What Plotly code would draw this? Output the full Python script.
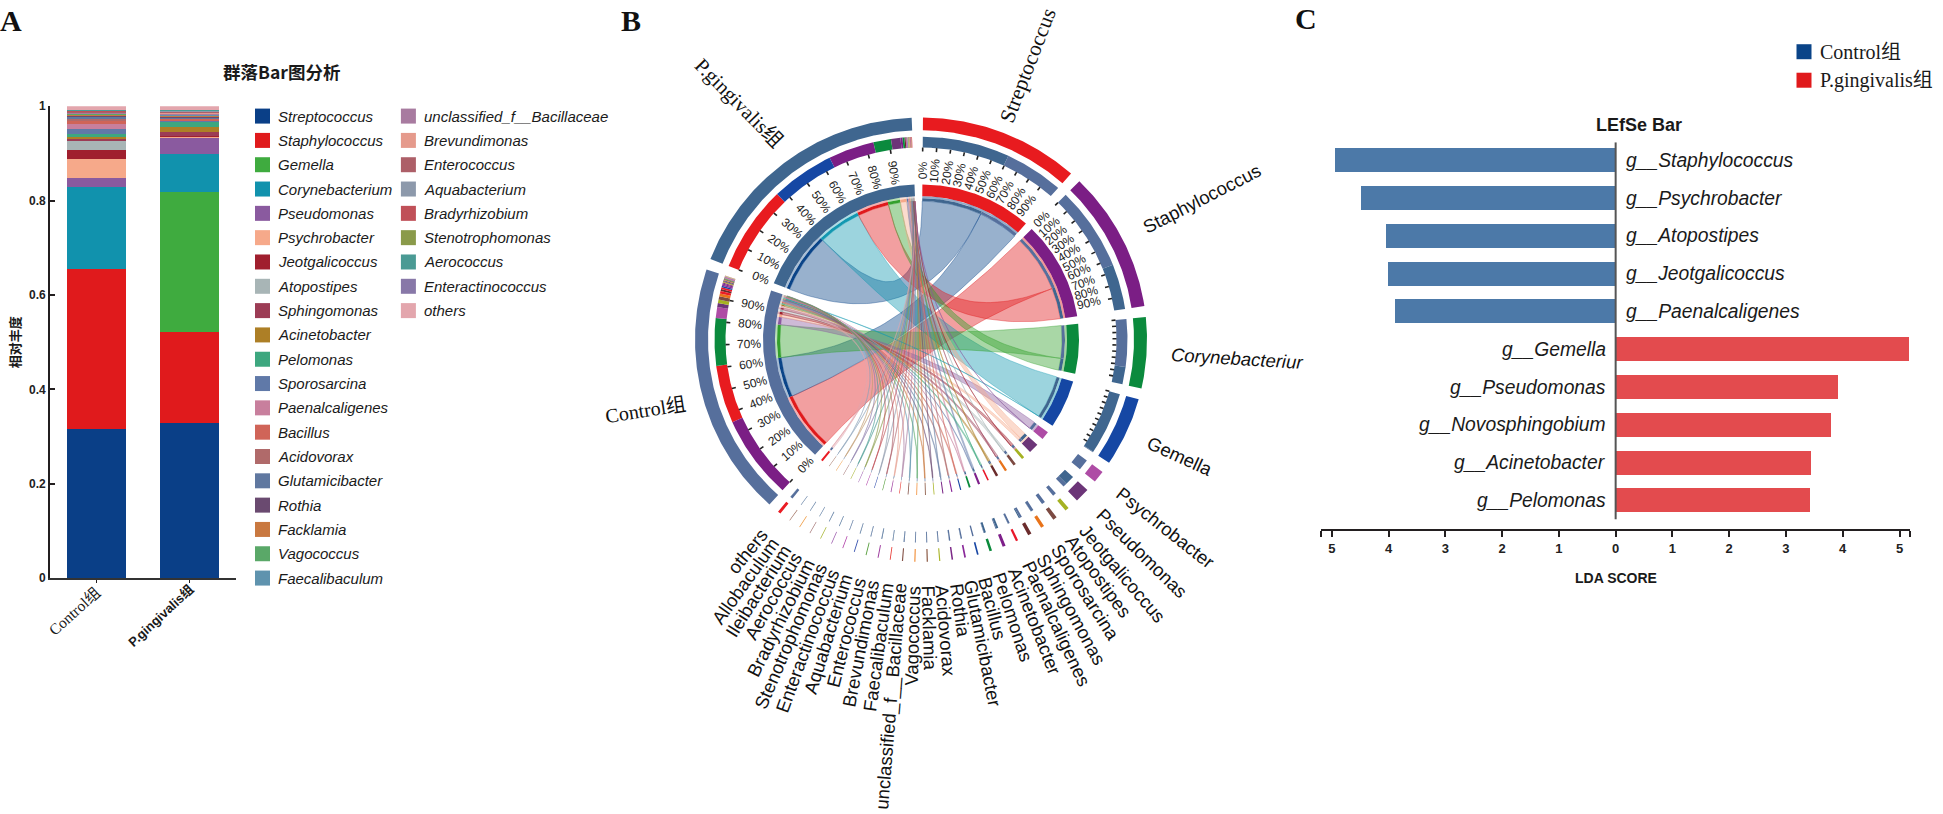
import math
import plotly.graph_objects as go

W, H = 1943, 814

# ---------- Panel A data ----------
groups_a = ["Control组", "P.gingivalis组"]
taxa_a = ["Streptococcus", "Staphylococcus", "Gemella", "Corynebacterium", "Pseudomonas", "Psychrobacter",
          "Jeotgalicoccus", "Atopostipes", "Sphingomonas", "Acinetobacter", "Pelomonas", "Sporosarcina",
          "Paenalcaligenes", "Bacillus", "Acidovorax", "Glutamicibacter", "Rothia", "Facklamia", "Vagococcus",
          "Faecalibaculum", "unclassified_f__Bacillaceae", "Brevundimonas", "Enterococcus", "Aquabacterium",
          "Bradyrhizobium", "Stenotrophomonas", "Aerococcus", "Enteractinococcus", "others"]
control_a = [.316, .339, .0005, .174, .019, .039, .019, .02, .005, .004, .005, .011, .011, .007, .004, .004, .002,
             .002, .002, .001, .001, .001, .001, .001, .001, .0005, .002, .0005, .0075]
pg_a = [.3285, .193, .2965, .081, .035, .002, .0005, .0005, .0095, .0105, .0095, .002, .001, .003, .001, .002, .003,
        .001, .001, .002, .002, .002, .001, .002, .001, .001, .0005, .0005, .0075]
colors_a = ["#0a3f87", "#e01a1c", "#3fab3f", "#1192ad", "#8a5a9f", "#f6a98a", "#a01f2e", "#a8b5b6", "#9c3c55",
            "#ad7f26", "#3da77f", "#6079a8", "#c87f9d", "#d06458", "#b06a6a", "#6078a0", "#6a4a70", "#c97840",
            "#5aa868", "#5f93ae", "#a87ba0", "#e59a8c", "#ad5f68", "#8d99ab", "#c05058", "#8a9a4a", "#4a9a94",
            "#8878a8", "#e3a6ad"]
ticks_a = [0, .2, .4, .6, .8, 1]
ticktext_a = ["<b>0</b>", "<b>0.2</b>", "<b>0.4</b>", "<b>0.6</b>", "<b>0.8</b>", "<b>1</b>"]

# ---------- Panel B data ----------
chord_species = ["Streptococcus", "Staphylococcus", "Corynebacteriur", "Gemella", "Psychrobacter", "Pseudomonas",
                 "Jeotgalicoccus", "Atopostipes", "Sporosarcina", "Sphingomonas", "Paenalcaligenes", "Acinetobacter",
                 "Pelomonas", "Bacillus", "Glutamicibacter", "Rothia", "Acidovorax", "Facklamia", "Vagococcus",
                 "unclassified_f__Bacillaceae", "Faecalibaculum", "Brevundimonas", "Enterococcus", "Aquabacterium",
                 "Enteractinococcus", "Stenotrophomonas", "Bradyrhizobium", "Aerococcus", "Ileibacterium",
                 "Allobaculum", "others"]
chord_control = [25, 36, 20.5, .3, 4.7, 1.7, 1.5, 1.5, 1.2, .9, .8, .35, .2, .6, .55, .5, .35, .35, .3, .3, .15, .15,
                 .2, .15, .2, .1, .1, .1, .1, .1, 1.05]
chord_pg = [37, 19.5, 7.5, 27, .05, 4, .05, .05, .1, .5, .1, .85, .8, .05, .1, .1, .1, .1, .1, .15, .2, .25, .15, .2,
            .1, .2, .2, .15, .15, .15, .1]
sector_colors = ["#e81b1f", "#7b1e85", "#0b8a3d", "#1547a4", "#ae4ca5", "#6c3578", "#a5b222", "#7c4a42", "#e8731a",
                 "#6b2c2c", "#e9182a", "#7e1f8a", "#0a8a3b", "#1947a4", "#8a2a9a", "#7d2a88", "#aab52a", "#85503a",
                 "#ef8020", "#86554a", "#e9403a", "#a040a0", "#5aa040", "#3a55b0", "#b040a8", "#a060b0", "#aab83a",
                 "#a07070", "#ef9a40", "#a07060", "#ea1c24"]
link_colors = ["#0a4488", "#e01a1c", "#33a02c", "#1398b1", "#8a5a9f", "#f6a98a", "#a01f2e", "#a8b5b6", "#9c3c55",
               "#ad7f26", "#3da77f", "#6079a8", "#c87f9d", "#d06458", "#b06a6a", "#6078a0", "#6a4a70", "#c97840",
               "#5aa868", "#5f93ae", "#a87ba0", "#e59a8c", "#ad5f68", "#8d99ab", "#c05058", "#8a9a4a", "#4a9a94",
               "#8878a8", "#c09a70", "#8aa0b8", "#e3a6ad"]
group_names = ["Control", "P.gingivalis"]
group_colors = {"Control": "#566f9c", "P.gingivalis": "#3f668f"}

# ---------- Panel C data ----------
lda_control_names = ["g__Staphylococcus", "g__Psychrobacter", "g__Atopostipes", "g__Jeotgalicoccus", "g__Paenalcaligenes"]
lda_control = [4.94, 4.486, 4.05, 4.01, 3.89]
lda_pg_names = ["g__Gemella", "g__Pseudomonas", "g__Novosphingobium", "g__Acinetobacter", "g__Pelomonas"]
lda_pg = [5.16, 3.92, 3.79, 3.44, 3.42]
lda_ticks = [-5, -4, -3, -2, -1, 0, 1, 2, 3, 4, 5]
lda_ticktext = ["<b>5</b>", "<b>4</b>", "<b>3</b>", "<b>2</b>", "<b>1</b>", "<b>0</b>", "<b>1</b>", "<b>2</b>",
                "<b>3</b>", "<b>4</b>", "<b>5</b>"]

SANS = "Liberation Sans, Noto Sans CJK SC"
SERIF = "Liberation Serif, Noto Sans CJK SC"
CJK = "Noto Sans CJK SC"
INK = "#231f20"

fig = go.Figure()
ann = []


def text(x, y, s, size, family=SANS, rot=0, xa="center", ya="middle", color="#1a1a1a"):
    ann.append(dict(x=x, y=y, xref="x3", yref="y3", text=s, showarrow=False, textangle=rot, xanchor=xa, yanchor=ya,
                    font=dict(size=size, family=family, color=color)))


# ---------- Panel A ----------
for name, cc, pp, col in zip(taxa_a, control_a, pg_a, colors_a):
    fig.add_trace(go.Bar(x=[0, 1], y=[cc, pp], marker=dict(color=col, line=dict(width=0)), name=name,
                         xaxis="x", yaxis="y", showlegend=False, hoverinfo="skip"))

lx = [262.5, 408.4]
row0, rowstep = 111, 24.74
for i, (name, col) in enumerate(zip(taxa_a, colors_a)):
    c = 0 if i < 20 else 1
    r = i if i < 20 else i - 20
    ypos = row0 + r * rowstep
    fig.add_trace(go.Scatter(x=[lx[c]], y=[ypos], mode="markers", xaxis="x3", yaxis="y3", showlegend=False,
                             hoverinfo="skip", marker=dict(symbol="square", size=15, color=col, line=dict(width=0))))
    text(lx[c] + 13.5, ypos, f"<i>{name}</i>", 15, xa="left")

text(281.6, 66, "<b>群落Bar图分析</b>", 17.5, family=CJK)
text(14, 341, "<b>相对丰度</b>", 13, family=CJK, rot=-90)
text(74, 615, groups_a[0], 15.5, family=SERIF, rot=-42)
text(161, 619, f"<b>{groups_a[1]}</b>", 13, rot=-43)

# ---------- Panel B geometry ----------
CX, CY = 921, 338.5
GAP = 2.87
START = 0.5
R_LINK, R_STRIP, R_TINT, R_BAND = 141, 144, 146, 158
R_TICK0, R_TICK1 = 191.5, 195.5
R_R2, R_R2O = 195.5, 206.5
R_O0, R_O1 = 213, 226


def pt(theta, r):
    t = math.radians(theta)
    return CX + r * math.sin(t), CY - r * math.cos(t)


def arc(a0, a1, r):
    n = max(2, int(abs(a1 - a0) / 0.5) + 2)
    return [pt(a0 + (a1 - a0) * i / (n - 1), r) for i in range(n)]


def ring(a0, a1, r0, r1):
    return arc(a0, a1, r1) + arc(a1, a0, r0)


def bez(p0, p2, n=50):
    out = []
    for i in range(1, n):
        t = i / n
        out.append(((1 - t) ** 2 * p0[0] + t * t * p2[0] + 2 * t * (1 - t) * CX,
                    (1 - t) ** 2 * p0[1] + t * t * p2[1] + 2 * t * (1 - t) * CY))
    return out


def rgba(hexcol, a):
    return f"rgba({int(hexcol[1:3], 16)},{int(hexcol[3:5], 16)},{int(hexcol[5:7], 16)},{a})"


buckets = {}


def add_poly(color, pts):
    b = buckets.setdefault(color, ([], []))
    b[0].extend([p[0] for p in pts] + [pts[0][0], None])
    b[1].extend([p[1] for p in pts] + [pts[0][1], None])


HELV = dict(zip("abcdefghijklmnopqrstuvwxyz", [.556, .556, .5, .556, .556, .278, .556, .556, .222, .222, .5, .222, .833,
                                               .556, .556, .556, .556, .333, .5, .278, .556, .5, .722, .5, .5, .5]))
HELV.update({"A": .667, "B": .667, "C": .722, "E": .667, "F": .611, "G": .778, "I": .278, "J": .5, "P": .667, "R": .722,
             "S": .667, "V": .667, "_": .556, "%": .889})


def width(s, size, k=1.0):
    return sum(HELV.get(ch, .556) for ch in s) * size * k


# sector layout: every value is drawn twice, once on its species and once on its group
total = sum(chord_control) + sum(chord_pg)
scale = (360 - GAP * (len(chord_species) + 2)) / (2 * total)
species_span = {}
pos = START
for i, sp in enumerate(chord_species):
    wdeg = (chord_control[i] + chord_pg[i]) * scale
    species_span[i] = (pos, pos + wdeg)
    pos += wdeg + GAP
group_span = {}
gvals = {"Control": chord_control, "P.gingivalis": chord_pg}
for g in group_names:
    wdeg = sum(gvals[g]) * scale
    group_span[g] = (pos, pos + wdeg)
    pos += wdeg + GAP

# where each link ends on the species sector (largest first)
sp_slot = {}
for i in range(len(chord_species)):
    a = species_span[i][0]
    order = sorted(group_names, key=lambda g: -gvals[g][i])
    for g in order:
        d = gvals[g][i] * scale
        sp_slot[(i, g)] = (a, a + d)
        a += d

# where each link ends on the group sector (largest first)
gr_slot = {}
for g in group_names:
    a = group_span[g][0]
    for i in sorted(range(len(chord_species)), key=lambda k: -gvals[g][k]):
        d = gvals[g][i] * scale
        gr_slot[(i, g)] = (a, a + d)
        a += d

# ribbons
link_order = sorted(((g, i) for g in group_names for i in range(len(chord_species))), key=lambda t: gvals[t[0]][t[1]])
for g, i in reversed(link_order):
    a0, a1 = gr_slot[(i, g)]
    b0, b1 = sp_slot[(i, g)]
    A = arc(a0, a1, R_LINK)
    B = arc(b0, b1, R_LINK)
    poly = A + bez(A[-1], B[0]) + B + bez(B[-1], A[0])
    poly.append(poly[0])
    fig.add_trace(go.Scatter(x=[p[0] for p in poly], y=[p[1] for p in poly], mode="lines", fill="toself",
                             fillcolor=rgba(link_colors[i], .42), line=dict(color=rgba(link_colors[i], .55), width=.7),
                             xaxis="x3", yaxis="y3", showlegend=False, hoverinfo="skip"))

# rings
for i in range(len(chord_species)):
    a0, a1 = species_span[i]
    add_poly(sector_colors[i], ring(a0, a1, R_O0, R_O1))
    add_poly(sector_colors[i], ring(a0, a1, R_TINT, R_BAND))
    for g in group_names:
        s0, s1 = sp_slot[(i, g)]
        if s1 - s0 > 0:
            add_poly(group_colors[g], ring(s0, s1, R_R2, R_R2O))
            add_poly(group_colors[g], ring(s0, s1, R_LINK, R_STRIP))
            add_poly(rgba(link_colors[i], .45), ring(s0, s1, R_STRIP, R_TINT))
            g0, g1 = gr_slot[(i, g)]
            add_poly(sector_colors[i], ring(g0, g1, R_R2, R_R2O))
            add_poly(link_colors[i], ring(g0, g1, R_LINK, R_STRIP))
            add_poly(rgba(link_colors[i], .35), ring(g0, g1, R_STRIP, R_TINT))
for g in group_names:
    a0, a1 = group_span[g]
    add_poly(group_colors[g], ring(a0, a1, R_O0, R_O1))
    add_poly(group_colors[g], ring(a0, a1, R_TINT, R_BAND))

for col, (xs, ys) in buckets.items():
    fig.add_trace(go.Scatter(x=xs, y=ys, mode="lines", fill="toself", fillcolor=col, line=dict(width=0),
                             xaxis="x3", yaxis="y3", showlegend=False, hoverinfo="skip"))

# ticks and percent labels
tx, ty = [], []
percent = [p * 10 for p in range(10)]
spans = [(group_span["Control"], True, True), (group_span["P.gingivalis"], True, True),
         (species_span[0], True, False), (species_span[1], True, False),
         (species_span[2], False, False), (species_span[3], False, False)]
for (a0, a1), labelled, left in spans:
    for p in percent:
        th = a0 + (a1 - a0) * p / 100
        p0, p1 = pt(th, R_TICK0), pt(th, R_TICK1)
        tx += [p0[0], p1[0], None]
        ty += [p0[1], p1[1], None]
        if labelled:
            lp = pt(th, 172)
            text(lp[0], lp[1], f"{p}%", 12, rot=th - 270 if left else th - 90, color="#222222")
fig.add_trace(go.Scatter(x=tx, y=ty, mode="lines", line=dict(color="#222222", width=1.6), xaxis="x3", yaxis="y3",
                         showlegend=False, hoverinfo="skip"))

# sector names
R_NAME = 251
for i, sp in enumerate(chord_species):
    if i == 0:
        continue
    a0, a1 = species_span[i]
    th = (a0 + a1) / 2
    size = 18.5
    w = width(sp, size)
    lp = pt(th, R_NAME + w / 2)
    rot = th - 90 if th < 180 else th - 270
    label = f"<i>{sp}</i>" if sp == "Corynebacteriur" else sp
    text(lp[0], lp[1], label, size, rot=rot, color="#111111")
a0, a1 = species_span[0]
lp = pt((a0 + a1) / 2, 299)
text(lp[0], lp[1], chord_species[0], 21.5, family=SERIF, rot=(a0 + a1) / 2 - 90, color="#111111")
text(739, 98, "P.gingivalis组", 20.5, family=SERIF, rot=45.5, color="#111111")
text(645, 410, "Control组", 20, family=SERIF, rot=-9, color="#111111")

# panel letters
text(11, 14, "<b>A</b>", 30, family=SERIF, color="#111111")
text(631, 14, "<b>B</b>", 30, family=SERIF, color="#111111")
text(1306, 12, "<b>C</b>", 30, family=SERIF, color="#111111")

# ---------- Panel C ----------
rows_control = list(range(len(lda_control)))
rows_pg = [len(lda_control) + k for k in range(len(lda_pg))]
fig.add_trace(go.Bar(x=[-v for v in lda_control], y=rows_control, orientation="h", xaxis="x2", yaxis="y2",
                     marker=dict(color="#4c79a8", line=dict(width=0)), showlegend=False, hoverinfo="skip"))
fig.add_trace(go.Bar(x=lda_pg, y=rows_pg, orientation="h", xaxis="x2", yaxis="y2",
                     marker=dict(color="#e34b4e", line=dict(width=0)), showlegend=False, hoverinfo="skip"))
fig.add_trace(go.Scatter(x=[0, 0], y=[-0.479, 9.5], mode="lines", xaxis="x2", yaxis="y2",
                         line=dict(color="#555555", width=2), showlegend=False, hoverinfo="skip"))
for r, n in zip(rows_control, lda_control_names):
    ann.append(dict(x=0, y=r, xref="x2", yref="y2", text=f"<i>{n}</i>", showarrow=False, xanchor="left", xshift=8,
                    font=dict(size=19.3, family=SANS, color="#1a1a1a")))
for r, n in zip(rows_pg, lda_pg_names):
    ann.append(dict(x=0, y=r, xref="x2", yref="y2", text=f"<i>{n}</i>", showarrow=False, xanchor="right", xshift=-8,
                    font=dict(size=19.3, family=SANS, color="#1a1a1a")))
text(1639, 120.4, "<b>LEfSe Bar</b>", 18)
text(1615.8, 581, "<b>LDA SCORE</b>", 14)
for ypos, label, col in [(45.5, "Control组", "#0a4488"), (74.5, "P.gingivalis组", "#e01a1c")]:
    fig.add_trace(go.Scatter(x=[1804], y=[ypos], mode="markers", xaxis="x3", yaxis="y3", showlegend=False,
                             hoverinfo="skip", marker=dict(symbol="square", size=15, color=col, line=dict(width=0))))
    text(1818, ypos, label, 20, family=SERIF, xa="left")

fig.update_layout(
    width=W, height=H, autosize=False, margin=dict(l=0, r=0, t=0, b=0), barmode="stack", bargap=0.364,
    paper_bgcolor="white", plot_bgcolor="rgba(0,0,0,0)", showlegend=False, annotations=ann,
    font=dict(family=SANS),
    xaxis=dict(domain=[50.2 / W, 236 / W], range=[-.5, 1.5], tickvals=[0, 1], ticktext=["", ""], ticks="outside",
               ticklen=3, tickcolor=INK, showline=True, linecolor="#333333", linewidth=2, showgrid=False,
               zeroline=False, anchor="y", fixedrange=True),
    yaxis=dict(domain=[1 - 581 / H, 1 - 101 / H], range=[0, 1], tickvals=ticks_a, ticktext=ticktext_a, ticks="inside",
               ticklen=5, tickwidth=1.5, tickcolor=INK, showline=True, linecolor=INK, linewidth=2, showgrid=False,
               zeroline=False, anchor="x", tickfont=dict(size=12, family=SANS, color="#222222"), fixedrange=True),
    xaxis2=dict(domain=[1321.3 / W, 1910 / W], range=[-5.185, 5.185], tickvals=lda_ticks + [-5.185, 5.185],
                ticktext=lda_ticktext + ["", ""], ticks="outside", ticklen=6, tickwidth=1.5, tickcolor=INK,
                showline=True, linecolor=INK, linewidth=2, showgrid=False, zeroline=False, anchor="y2",
                tickfont=dict(size=13, family=SANS, color="#222222"), fixedrange=True),
    yaxis2=dict(domain=[1 - 531.3 / H, 1 - 137.6 / H], range=[9.763, -0.479], visible=False, anchor="x2", fixedrange=True),
    xaxis3=dict(domain=[0, 1], range=[0, W], visible=False, anchor="y3", fixedrange=True),
    yaxis3=dict(domain=[0, 1], range=[H, 0], visible=False, anchor="x3", fixedrange=True),
)

fig.write_html("out.html", config=dict(displayModeBar=False, responsive=False),
               post_script="document.body.style.margin='0';document.body.style.overflow='hidden';")
